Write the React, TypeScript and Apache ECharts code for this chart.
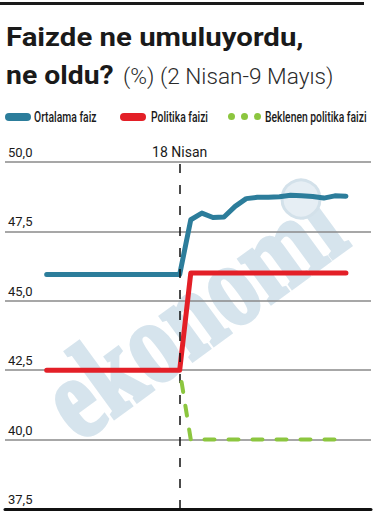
import React, { useEffect, useRef } from "react";
import * as echarts from "echarts";

const dates = [
  "2 Nis", "3 Nis", "4 Nis", "7 Nis", "8 Nis", "9 Nis", "10 Nis", "11 Nis", "14 Nis", "15 Nis",
  "16 Nis", "17 Nis", "18 Nis", "21 Nis", "22 Nis", "23 Nis", "24 Nis", "25 Nis", "28 Nis", "29 Nis",
  "30 Nis", "1 May", "2 May", "5 May", "6 May", "7 May", "8 May", "9 May",
];

const ortalama = [
  45.95, 45.95, 45.95, 45.95, 45.95, 45.95, 45.95, 45.95, 45.95, 45.95,
  45.95, 45.95, 45.95, 47.92, 48.16, 48.0, 48.02, 48.4, 48.68, 48.73,
  48.73, 48.75, 48.8, 48.78, 48.76, 48.7, 48.78, 48.77,
];

const politika = [
  42.5, 42.5, 42.5, 42.5, 42.5, 42.5, 42.5, 42.5, 42.5, 42.5,
  42.5, 42.5, 42.5, 46, 46, 46, 46, 46, 46, 46,
  46, 46, 46, 46, 46, 46, 46, 46,
];

const beklenen: (number | null)[] = [
  null, null, null, null, null, null, null, null, null, null,
  null, null, 42.5, 40, 40, 40, 40, 40, 40, 40,
  40, 40, 40, 40, 40, 40, 40, 40,
];

const yTicks = [37.5, 40, 42.5, 45, 47.5, 50];
const markerDate = "18 Nis";
const markerLabel = "18 Nisan";
const seriesNames = ["Ortalama faiz", "Politika faizi", "Beklenen politika faizi"];
const colors = ["#2c7d9b", "#e31f27", "#8cc63f"];

const FONT = "Roboto, sans-serif";

const toPairs = (arr: (number | null)[]) =>
  arr.map((v, i) => [i, v]).filter((p) => p[1] !== null);

export default function App() {
  const ref = useRef<HTMLDivElement>(null);
  useEffect(() => {
    if (!ref.current) return;
    const chart = echarts.init(ref.current, undefined, { renderer: "svg" });
    const markerIndex = dates.indexOf(markerDate);
    const pill = "path://M4,0 H22 A4,4 0 0 1 22,8 H4 A4,4 0 0 1 4,0 Z";
    const dots =
      "path://M0,3.5 a3.5,3.5 0 1,0 7,0 a3.5,3.5 0 1,0 -7,0 Z M13,3.5 a3.5,3.5 0 1,0 7,0 a3.5,3.5 0 1,0 -7,0 Z M26,3.5 a3.5,3.5 0 1,0 7,0 a3.5,3.5 0 1,0 -7,0 Z";
    const legendBase = { top: 113, padding: 0, itemGap: 0, formatter: () => "", textStyle: { fontSize: 1 } };
    const legendLabel = (text: string, x: number) => ({
      type: "text", x, y: 117, scaleX: 0.74, z: 10,
      style: { text, fontFamily: FONT, fontWeight: 500, fontSize: 14, fill: "#1a1a1a", verticalAlign: "middle" },
    });
    chart.setOption({
      animation: false,
      grid: { left: 5, right: 5, top: 162, bottom: 5, containLabel: false },
      legend: [
        { ...legendBase, data: [seriesNames[0]], left: 5, icon: pill, itemWidth: 26, itemHeight: 8 },
        { ...legendBase, data: [seriesNames[1]], left: 120, icon: pill, itemWidth: 26, itemHeight: 8 },
        { ...legendBase, data: [seriesNames[2]], left: 228, icon: dots, itemWidth: 33, itemHeight: 7 },
      ],
      xAxis: {
        type: "value",
        min: -3.76,
        max: 29.26,
        axisLine: { show: true, lineStyle: { color: "#111", width: 3 } },
        axisTick: { show: false },
        axisLabel: { show: false },
        splitLine: { show: false },
      },
      yAxis: {
        type: "value",
        min: yTicks[0],
        max: yTicks[yTicks.length - 1],
        interval: 2.5,
        axisLine: { show: false },
        axisTick: { show: false },
        splitLine: { show: true, lineStyle: { color: "#8a8a8a", width: 1.5 } },
        axisLabel: {
          inside: true,
          margin: 3,
          verticalAlign: "bottom",
          padding: [0, 0, 3, 0],
          fontFamily: FONT,
          fontSize: 13,
          color: "#1a1a1a",
          formatter: (v: number) => v.toFixed(1).replace(".", ","),
        },
      },
      graphic: [
        { type: "rect", left: 0, top: 2, shape: { width: 364, height: 3 }, style: { fill: "#1a1a1a" } },
        {
          type: "text", x: 6, y: 37, z: 10, scaleX: 1.13,
          style: { text: "Faizde ne umuluyordu,", fontFamily: FONT, fontWeight: "bold", fontSize: 26, fill: "#1a1a1a", verticalAlign: "middle" },
        },
        {
          type: "text", x: 6, y: 75, z: 10, scaleX: 1.09,
          style: { text: "ne oldu?", fontFamily: FONT, fontWeight: "bold", fontSize: 26, fill: "#1a1a1a", verticalAlign: "middle" },
        },
        {
          type: "text", x: 123, y: 76, z: 10, scaleX: 1.03,
          style: { text: "(%) (2 Nisan-9 Mayıs)", fontFamily: FONT, fontWeight: 300, fontSize: 22, fill: "#2a2a2a", verticalAlign: "middle" },
        },
        legendLabel(seriesNames[0], 34),
        legendLabel(seriesNames[1], 151),
        legendLabel(seriesNames[2], 265),
        {
          type: "text", x: 192, y: 312, rotation: 0.63, scaleX: 0.78, z: -1, silent: true,
          style: { text: "ekonomi", fontFamily: "'Liberation Serif', serif", fontWeight: "bold", fontSize: 118, fill: "#d6e4ed", stroke: "#d6e4ed", lineWidth: 4, align: "center", verticalAlign: "middle" },
        },
        {
          type: "circle", x: 301, y: 199, z: -1, silent: true,
          shape: { r: 19 },
          style: { fill: "#e6eef4", stroke: "#d3e1ea", lineWidth: 3 },
        },
      ],
      series: [
        {
          name: seriesNames[0], type: "line", data: toPairs(ortalama), showSymbol: false, z: 3,
          color: colors[0],
          lineStyle: { color: colors[0], width: 5, cap: "round", join: "round" },
        },
        {
          name: seriesNames[1], type: "line", data: toPairs(politika), showSymbol: false, z: 4,
          color: colors[1],
          lineStyle: { color: colors[1], width: 5, cap: "round", join: "round" },
          markLine: {
            silent: true,
            symbol: "none",
            lineStyle: { color: "#111", type: [9, 12], width: 1.5 },
            label: { show: true, position: "end", distance: 3, formatter: markerLabel, fontFamily: FONT, fontSize: 14, color: "#1a1a1a" },
            data: [{ xAxis: markerIndex }],
          },
        },
        {
          name: seriesNames[2], type: "line", data: toPairs(beklenen), showSymbol: false, z: 5,
          color: colors[2],
          lineStyle: { color: colors[2], width: 4, type: [10, 14], dashOffset: 12, cap: "round", join: "round" },
        },
      ],
    });
    return () => chart.dispose();
  }, []);
  return <div ref={ref} style={{ width: 376, height: 514, position: "absolute", left: 0, top: 0 }} />;
}
